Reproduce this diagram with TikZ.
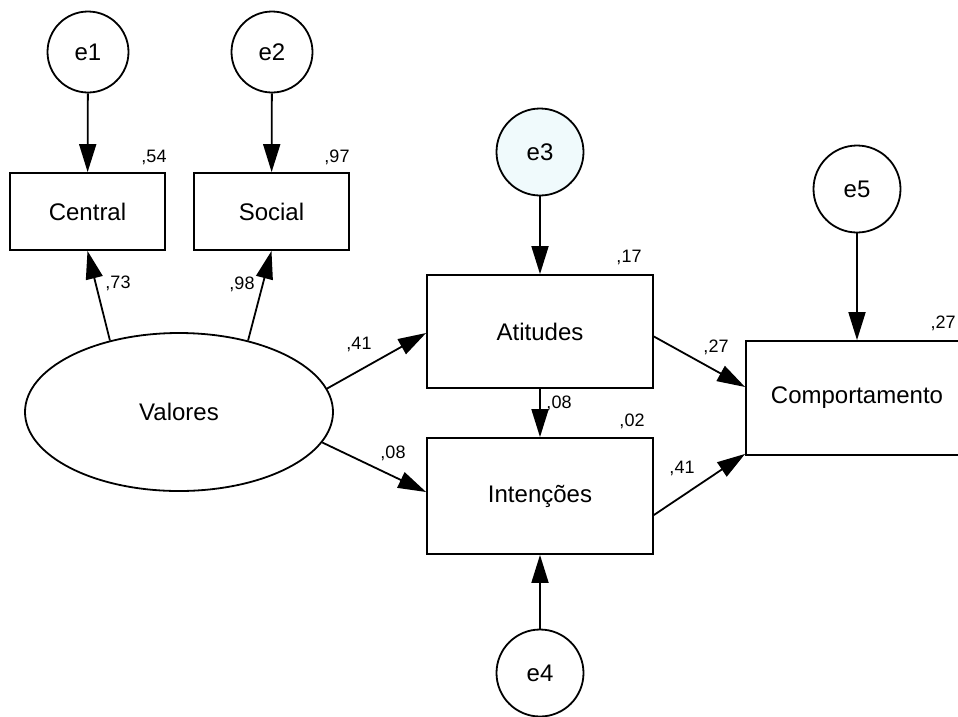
\documentclass[tikz,border=0pt]{standalone}
\usepackage{fontspec}
\setmainfont{Liberation Sans}
\usetikzlibrary{shapes.geometric,positioning,arrows.meta}
\definecolor{errfill}{RGB}{240,250,252}
\tikzset{
  errvar/.style={circle,draw,line width=1.8pt,inner sep=0pt,minimum size=87pt,fill=white,font=\fontsize{24}{28}\selectfont},
  obsvar/.style={rectangle,draw,line width=1.8pt,inner sep=0pt,fill=white,font=\fontsize{24}{28}\selectfont},
  latvar/.style={ellipse,draw,line width=1.8pt,inner sep=0pt,fill=white,font=\fontsize{24}{28}\selectfont},
  semarr/.style={-{Triangle[length=28pt,width=17pt]},line width=1.8pt},
  coef/.style={font=\fontsize{18}{20}\selectfont,inner sep=0pt}
}

\begin{document}
\begin{tikzpicture}[x=1pt,y=-1pt]
  \useasboundingbox[fill=white] (0,0) rectangle (958,716);
  % error terms
  \foreach \n/\x/\y in {e1/88/52,e2/272/52}
    \node[errvar,minimum size=81pt] (\n) at (\x,\y) {\n};
  \node[errvar,fill=errfill] (e3) at (540,152) {e3};
  \node[errvar] (e4) at (540,673) {e4};
  \node[errvar] (e5) at (857,189) {e5};

  % indicators and constructs
  \foreach \n/\x/\t in {central/87.5/Central,social/271.5/Social}
    \node[obsvar,minimum width=155pt,minimum height=77pt] (\n) at (\x,211.5) {\t};
  \node[latvar,minimum width=308pt,minimum height=158pt] (valores) at (179,412) {Valores};
  \node[obsvar,minimum width=226pt,minimum height=113pt] (atitudes) at (540,331.5) {Atitudes};
  \node[obsvar,minimum width=226pt,minimum height=116pt] (intencoes) at (540,496) {Intenções};
  \node[obsvar,minimum width=222pt,minimum height=114pt] (comport) at (857,398) {Comportamento};

  % paths
  \draw[semarr] (e1) -- (central);
  \draw[semarr] (e2) -- (social);
  \draw[semarr] (e3) -- (atitudes);
  \draw[semarr] (e4) -- (intencoes);
  \draw[semarr] (e5) -- (comport);
  \draw[semarr] (valores.134) -- (central.south);
  \draw[semarr] (valores.46) -- (social.south);
  \draw[semarr] (valores.9) -- ([yshift=-1.5pt]atitudes.west);
  \draw[semarr] (valores.-12) -- ([yshift=4pt]intencoes.west);
  \draw[semarr] (atitudes) -- (intencoes);
  \draw[semarr] ([yshift=-5pt]atitudes.east) -- ([yshift=11pt]comport.west);
  \draw[semarr] ([yshift=-19pt]intencoes.east) -- ([yshift=2pt]comport.south west);

  % estimates
  \foreach \v/\x/\y in {{,54}/154/157,{,97}/337/157,{,73}/118/283,{,98}/242/284,{,41}/359/344,{,08}/393/453,
                        {,17}/629/257,{,08}/559/403,{,02}/632/421,{,27}/716/347,{,27}/943/323,{,41}/682/468}
    \node[coef] at (\x,\y) {\v};
\end{tikzpicture}
\end{document}
